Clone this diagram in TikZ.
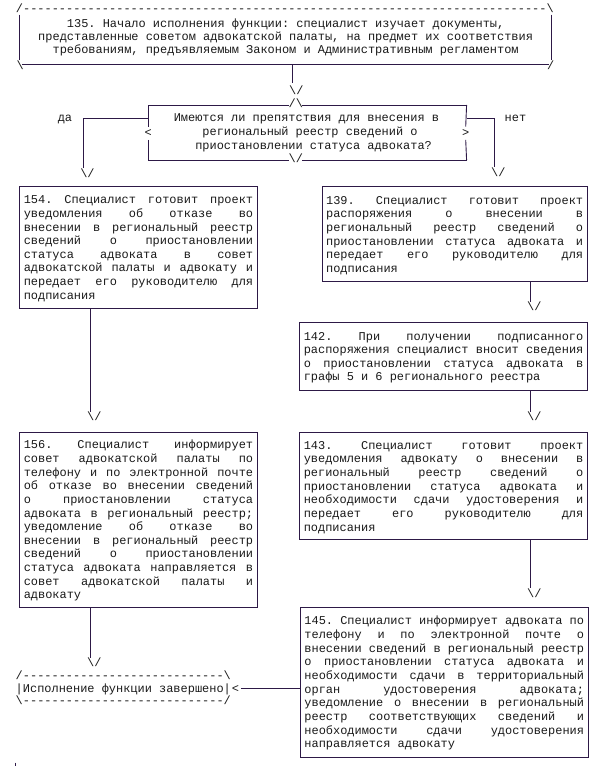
\documentclass[tikz,border=0pt]{standalone}
\usepackage{fontspec}
\setmonofont{Liberation Mono}
\usetikzlibrary{calc}
\definecolor{ln}{RGB}{45,25,70}
\definecolor{tx}{RGB}{25,25,25}
\newlength\lw
\newcommand\mystrut{\vrule width 0pt height 11pt depth 2.65pt\relax}
\newcommand\jline[1]{\hbox to \lw{\mystrut\spaceskip=0.6em plus 1fil\relax#1}}
\newcommand\lline[1]{\hbox to \lw{\mystrut#1\hfil}}
\newcommand\centl[1]{\hbox to \lw{\hfil\mystrut#1\hfil}}
\newcommand\boxtext[3][13.65pt]{\lw=#2\relax\vbox{\baselineskip=#1\relax\lineskiplimit=-\maxdimen\lineskip=0pt\relax #3}}
\newcommand\hy[1]{\foreach \i in {1,...,#1}{-\kern0pt}}
\begin{document}
\begin{tikzpicture}[x=1pt, y=-1pt, line width=0.9pt, color=ln,
  font=\ttfamily\fontsize{11.95}{13.65}\selectfont\frenchspacing,
  every node/.style={text=tx, inner sep=0pt},
  box/.style={draw=ln, anchor=north west, inner xsep=4pt, inner ysep=5pt},
  glyph/.style={inner sep=0pt, anchor=center},
  row/.style={inner sep=0pt, anchor=base west}]
\fill[white] (0,0) rectangle (606,766);
\useasboundingbox (0,0) rectangle (606,766);

% ---- box 135
\node[minimum width=531.3pt, minimum height=55pt] (b135) at (285.65,36.8)
 {\boxtext[13pt]{495pt}{%
  \centl{135. Начало исполнения функции: специалист изучает документы,}
  \centl{представленные советом адвокатской палаты, на предмет их соответствия}
  \centl{требованиям, предъявляемым Законом и Административным регламентом}}};
\node[row] (t135) at (15.5,12.4) {/\hy{73}\textbackslash};
\node[glyph] (c135l) at (20.3,65) {\textbackslash};
\node[glyph] (c135r) at (550.8,65) {/};
\draw ([yshift=-5.7pt]b135.north west) -- ([yshift=4.3pt]b135.south west);
\draw ([yshift=-5.7pt]b135.north east) -- ([yshift=4.3pt]b135.south east);
\draw ([xshift=2.5pt]b135.south west) -- ([xshift=-2.5pt]b135.south east);

% ---- decision
\node[glyph] (v1) at (296.3,90.7) {\textbackslash/};
\coordinate (l1) at ([xshift=-3.6pt,yshift=2.5pt]v1.north);
\draw (l1 |- b135.south) -- (l1);

\node[anchor=north west, minimum width=317.4pt, minimum height=54.3pt] (dec) at (148.3,105) {};
\node[glyph] (up) at (295.8,103.3) {/\textbackslash};
\node[glyph] (dn) at (295.8,158) {\textbackslash/};
\node[glyph] (lt) at (148.3,133) {<};
\node[glyph] (gt) at (465.7,133) {>};
\node[anchor=north west] (dectext) at (173.3,110)
 {\boxtext[14.2pt]{266pt}{%
  \lline{Имеются ли препятствия для внесения в}
  \lline{\hspace*{28.68pt}региональный реестр сведений о}
  \lline{\hspace*{21.51pt}приостановлении статуса адвоката?}}};
\draw (dec.north west) -- ([xshift=1pt]up.west |- dec.north);
\draw ([xshift=-1pt]up.east |- dec.north) -- (dec.north east);
\draw (dec.south west) -- ([xshift=1pt]dn.west |- dec.south);
\draw ([xshift=-1pt]dn.east |- dec.south) -- (dec.south east);
\draw (dec.north west) -- ([yshift=2.5pt]lt.north);
\draw ([yshift=-3pt]lt.south) -- (dec.south west);
\draw (dec.north east) -- ([yshift=2.5pt]gt.north);
\draw ([yshift=-3pt]gt.south) -- (dec.south east);

\node[anchor=base] (da) at (65,121) {да};
\node[anchor=base] (net) at (515.5,121) {нет};
\node[glyph] (vda) at (87.5,173) {\textbackslash/};
\node[glyph] (vnet) at (498.3,172) {\textbackslash/};
\coordinate (lda) at ([xshift=-3.6pt]vda.north);
\coordinate (lnet) at ([xshift=-3.6pt]vnet.north);
\draw ([yshift=-13.3pt]dec.north west) -| (lda);
\draw ([yshift=-13.3pt]dec.north east) -| (lnet);

% ---- left column
\node[box, minimum width=237.4pt, minimum height=121.7pt] (b154) at (19.3,186)
 {\boxtext{229.4pt}{%
  \jline{154. Специалист готовит проект}
  \jline{уведомления об отказе во}
  \jline{внесении в региональный реестр}
  \jline{сведений о приостановлении}
  \jline{статуса адвоката в совет}
  \jline{адвокатской палаты и адвокату и}
  \jline{передает его руководителю для}
  \lline{подписания}}};
\node[glyph] (v154) at (94.3,416.7) {\textbackslash/};
\coordinate (l154) at ([xshift=-3.6pt]v154.north);
\draw (l154 |- b154.south) -- (l154);

\node[box, minimum width=237.4pt, minimum height=175pt] (b156) at (19.3,431.7)
 {\boxtext{229.4pt}{%
  \jline{156. Специалист информирует}
  \jline{совет адвокатской палаты по}
  \jline{телефону и по электронной почте}
  \jline{об отказе во внесении сведений}
  \jline{о приостановлении статуса}
  \jline{адвоката в региональный реестр;}
  \jline{уведомление об отказе во}
  \jline{внесении в региональный реестр}
  \jline{сведений о приостановлении}
  \jline{статуса адвоката направляется в}
  \jline{совет адвокатской палаты и}
  \lline{адвокату}}};
\node[glyph] (v156) at (94.3,662.7) {\textbackslash/};
\coordinate (l156) at ([xshift=-3.6pt]v156.north);
\draw (l156 |- b156.south) -- (l156);

% ---- right column
\node[box, minimum width=265pt, minimum height=95.3pt] (b139) at (321.7,186)
 {\boxtext{257pt}{%
  \jline{139. Специалист готовит проект}
  \jline{распоряжения о внесении в}
  \jline{региональный реестр сведений о}
  \jline{приостановлении статуса адвоката и}
  \jline{передает его руководителю для}
  \lline{подписания}}};
\node[glyph] (v139) at (534.3,306.7) {\textbackslash/};
\coordinate (l139) at ([xshift=-3.6pt]v139.north);
\draw (l139 |- b139.south) -- (l139);

\node[box, minimum width=287.6pt, minimum height=68.3pt] (b142) at (299.3,321.7)
 {\boxtext{279.6pt}{%
  \jline{142. При получении подписанного}
  \jline{распоряжения специалист вносит сведения}
  \jline{о приостановлении статуса адвоката в}
  \lline{графы 5 и 6 регионального реестра}}};
\node[glyph] (v142) at (534.3,416.7) {\textbackslash/};
\coordinate (l142) at ([xshift=-3.6pt]v142.north);
\draw (l142 |- b142.south) -- (l142);

\node[box, minimum width=287.6pt, minimum height=107.6pt] (b143) at (299.3,431.7)
 {\boxtext{279.6pt}{%
  \jline{143. Специалист готовит проект}
  \jline{уведомления адвокату о внесении в}
  \jline{региональный реестр сведений о}
  \jline{приостановлении статуса адвоката и}
  \jline{необходимости сдачи удостоверения и}
  \jline{передает его руководителю для}
  \lline{подписания}}};
\node[glyph] (v143) at (534.3,593.3) {\textbackslash/};
\coordinate (l143) at ([xshift=-3.6pt]v143.north);
\draw (l143 |- b143.south) -- (l143);

\node[box, minimum width=287.6pt, minimum height=149.5pt] (b145) at (300,607)
 {\boxtext{279.6pt}{%
  \jline{145. Специалист информирует адвоката по}
  \jline{телефону и по электронной почте о}
  \jline{внесении сведений в региональный реестр}
  \jline{о приостановлении статуса адвоката и}
  \jline{необходимости сдачи в территориальный}
  \jline{орган удостоверения адвоката;}
  \jline{уведомление о внесении в региональный}
  \jline{реестр соответствующих сведений и}
  \jline{необходимости сдачи удостоверения}
  \lline{направляется адвокату}}};

% ---- final box
\node[row] (fint) at (15.3,679.8) {/\hy{28}\textbackslash};
\node[row] (fin) at (15.3,692.3) {|Исполнение функции завершено|};
\node[row] (finarr) at (fin.base east) {<};
\node[row] (finb) at (15.3,704.8) {\textbackslash\hy{28}/};
\draw ([xshift=1.5pt]finarr.east) -- (finarr.east -| b145.west);

\draw (15.5,762.5) -- (15.5,766);
\end{tikzpicture}
\end{document}
